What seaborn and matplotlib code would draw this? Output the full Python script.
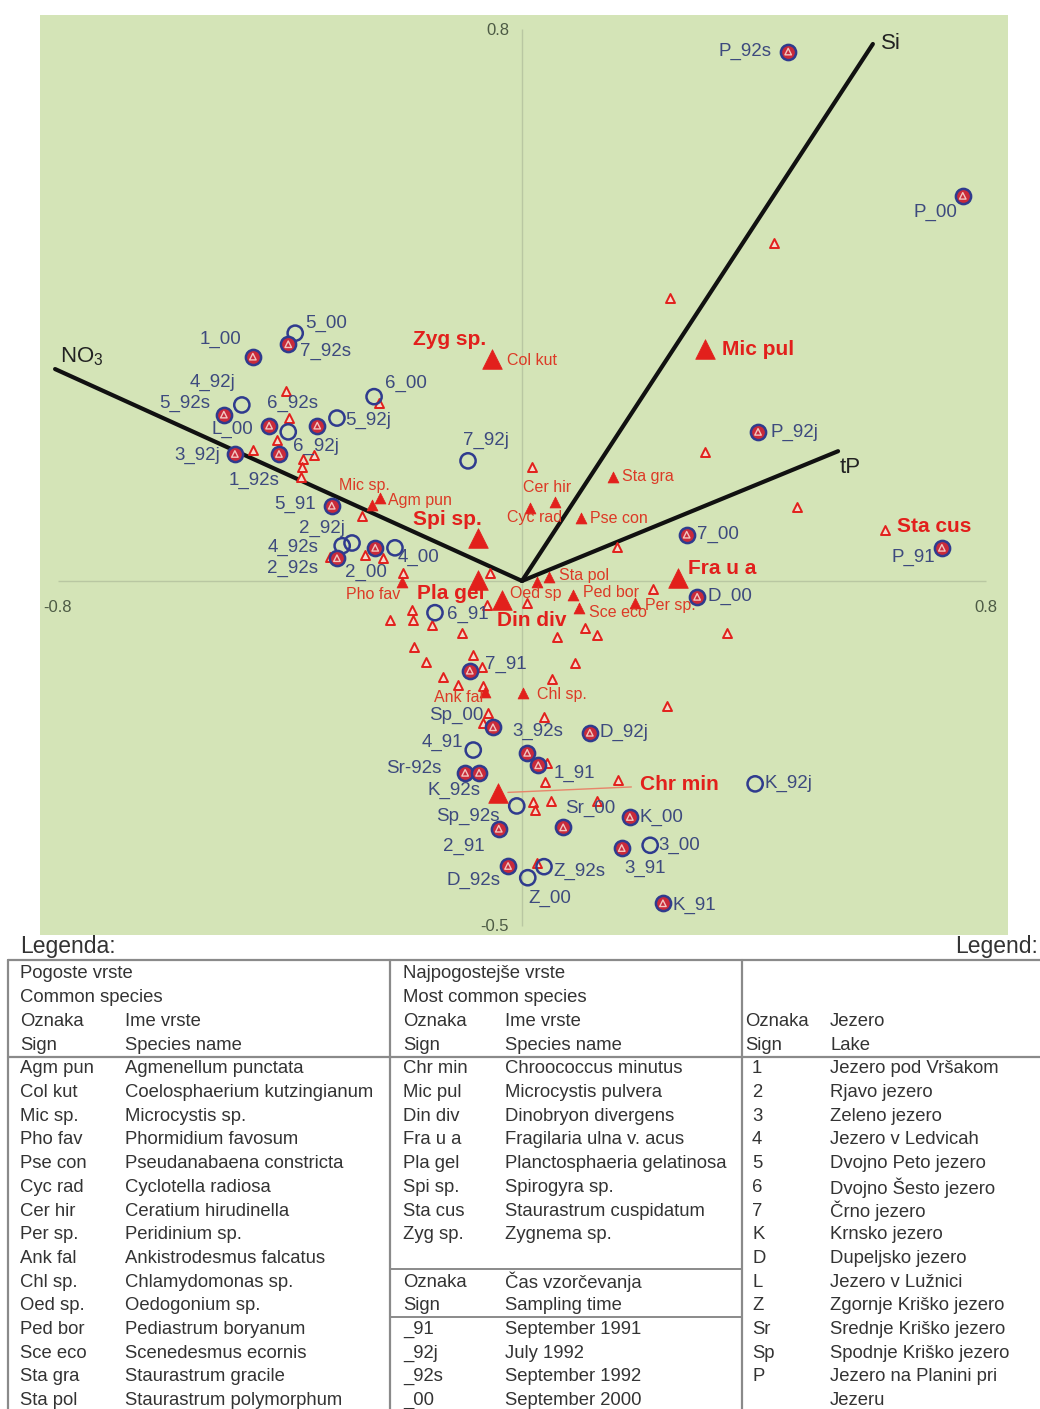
import matplotlib
matplotlib.use("Agg")
import matplotlib.pyplot as plt
import seaborn as sns
import pandas as pd

# ---------------- data ----------------
# sampling sites (lake + sampling time); filled = circle that also holds a species mark
site_names = ["P_92s", "P_00", "5_00", "7_92s", "1_00", "6_00", "4_92j", "5_92s", "L_00",
              "6_92s", "6_92j", "5_92j", "3_92j", "1_92s", "7_92j", "5_91", "2_92j", "4_92s",
              "2_92s", "2_00", "4_00", "P_92j", "7_00", "P_91", "D_00", "6_91", "7_91",
              "Sp_00", "3_92s", "4_91", "Sr-92s", "K_92s", "1_91", "Sp_92s", "2_91", "Sr_00",
              "D_92j", "K_00", "3_91", "3_00", "Z_92s", "D_92s", "Z_00", "K_91", "K_92j"]
site_x = [0.459, 0.760, -0.391, -0.403, -0.464, -0.255, -0.483, -0.514, -0.436,
          -0.353, -0.403, -0.319, -0.495, -0.419, -0.093, -0.328, -0.293, -0.310,
          -0.319, -0.253, -0.219, 0.407, 0.284, 0.724, 0.302, -0.150, -0.090,
          -0.050, 0.009, -0.084, -0.098, -0.074, 0.028, -0.009, -0.040, 0.071,
          0.117, 0.186, 0.172, 0.221, 0.038, -0.024, 0.010, 0.243, 0.402]
site_y = [0.767, 0.558, 0.359, 0.343, 0.325, 0.267, 0.255, 0.241, 0.225,
          0.225, 0.216, 0.236, 0.184, 0.184, 0.174, 0.109, 0.055, 0.051,
          0.033, 0.048, 0.048, 0.216, 0.067, 0.048, -0.023, -0.046, -0.130,
          -0.212, -0.249, -0.245, -0.278, -0.278, -0.267, -0.326, -0.359, -0.357,
          -0.220, -0.342, -0.387, -0.383, -0.414, -0.413, -0.430, -0.467, -0.294]
site_filled = [True, True, False, True, True, False, False, True, True,
               True, False, False, True, True, False, True, False, False,
               True, True, False, True, True, True, True, False, True,
               True, True, False, True, True, True, False, True, True,
               True, True, True, False, False, True, False, True, False]

# common species (small filled triangles)
common_names = ["Agm pun", "Col kut", "Mic sp.", "Pho fav", "Pse con", "Cyc rad", "Cer hir",
                "Per sp.", "Ank fal", "Chl sp.", "Oed sp", "Ped bor", "Sce eco", "Sta gra", "Sta pol"]
common_x = [-0.245, -0.050, -0.259, -0.207, 0.102, 0.014, 0.057,
            0.195, -0.064, 0.002, 0.026, 0.088, 0.098, 0.157, 0.047]
common_y = [0.120, 0.320, 0.110, -0.001, 0.091, 0.106, 0.114,
            -0.032, -0.161, -0.162, -0.001, -0.020, -0.039, 0.151, 0.006]

# most common species (large filled triangles)
top_names = ["Chr min", "Mic pul", "Din div", "Fra u a", "Pla gel", "Spi sp.", "Sta cus", "Zyg sp."]
top_x = [-0.041, 0.316, -0.034, 0.269, -0.076, -0.076, 0.626, -0.052]
top_y = [-0.307, 0.336, -0.028, 0.004, 0.001, 0.062, 0.074, 0.322]

# remaining (rare) species, unlabelled
rare_x = [0.434, 0.255, -0.407, -0.402, -0.422, -0.464, -0.359, -0.378, -0.379, -0.381,
          -0.247, -0.276, -0.331, -0.271, -0.240, -0.205, 0.017, 0.316, 0.474, 0.164,
          -0.055, -0.060, 0.009, 0.226, 0.353, -0.228, -0.190, -0.188, -0.155, -0.103,
          0.060, 0.109, 0.129, -0.186, -0.166, -0.084, 0.091, -0.136, -0.110, -0.067,
          -0.069, 0.052, 0.250, 0.038, -0.059, -0.067, 0.040, 0.019, 0.022, 0.050,
          0.129, 0.043, 0.166, 0.026]
rare_y = [0.490, 0.410, 0.275, 0.236, 0.204, 0.190, 0.183, 0.177, 0.165, 0.151,
          0.258, 0.094, 0.035, 0.038, 0.033, 0.012, 0.165, 0.187, 0.107, 0.049,
          0.012, -0.035, -0.032, -0.012, -0.075, -0.057, -0.042, -0.057, -0.064, -0.075,
          -0.081, -0.068, -0.078, -0.096, -0.117, -0.107, -0.119, -0.139, -0.151, -0.152,
          -0.125, -0.142, -0.181, -0.197, -0.191, -0.206, -0.291, -0.320, -0.332, -0.319,
          -0.319, -0.264, -0.288, -0.409]

# environmental variables
env_names = ["NO$_3$", "Si", "tP"]
env_x = [-0.805, 0.605, 0.545]
env_y = [0.307, 0.778, 0.188]

x_ticks = [-0.8, 0.8]
y_ticks = [-0.5, 0.8]

# ---------------- legend table text ----------------
legend_common_signs = ["Agm pun", "Col kut", "Mic sp.", "Pho fav", "Pse con", "Cyc rad", "Cer hir",
                       "Per sp.", "Ank fal", "Chl sp.", "Oed sp.", "Ped bor", "Sce eco", "Sta gra", "Sta pol"]
legend_common_full = ["Agmenellum punctata", "Coelosphaerium kutzingianum", "Microcystis sp.",
                      "Phormidium favosum", "Pseudanabaena constricta", "Cyclotella radiosa",
                      "Ceratium hirudinella", "Peridinium sp.", "Ankistrodesmus falcatus",
                      "Chlamydomonas sp.", "Oedogonium sp.", "Pediastrum boryanum",
                      "Scenedesmus ecornis", "Staurastrum gracile", "Staurastrum polymorphum"]
legend_top_signs = ["Chr min", "Mic pul", "Din div", "Fra u a", "Pla gel", "Spi sp.", "Sta cus", "Zyg sp."]
legend_top_full = ["Chroococcus minutus", "Microcystis pulvera", "Dinobryon divergens",
                   "Fragilaria ulna v. acus", "Planctosphaeria gelatinosa", "Spirogyra sp.",
                   "Staurastrum cuspidatum", "Zygnema sp."]
time_signs = ["_91", "_92j", "_92s", "_00"]
time_full = ["September 1991", "July 1992", "September 1992", "September 2000"]
lake_signs = ["1", "2", "3", "4", "5", "6", "7", "K", "D", "L", "Z", "Sr", "Sp", "P", ""]
lake_full = ["Jezero pod Vršakom", "Rjavo jezero", "Zeleno jezero", "Jezero v Ledvicah",
             "Dvojno Peto jezero", "Dvojno Šesto jezero", "Črno jezero", "Krnsko jezero",
             "Dupeljsko jezero", "Jezero v Lužnici", "Zgornje Kriško jezero",
             "Srednje Kriško jezero", "Spodnje Kriško jezero", "Jezero na Planini pri", "Jezeru"]

# label placement (pixel offsets from the mark, horizontal alignment)
site_label_pos = {
    "P_92s": (-17, 0, "right"), "P_00": (-5, -17, "right"), "5_00": (10, 10, "left"),
    "7_92s": (12, -7, "left"), "1_00": (-11, 17, "right"), "6_00": (11, 13, "left"),
    "4_92j": (-6, 23, "right"), "5_92s": (-14, 11, "right"), "L_00": (-16, -4, "right"),
    "6_92s": (-25, 22, "center"), "6_92j": (5, -15, "left"), "5_92j": (8, -2, "left"),
    "3_92j": (-15, -1, "right"), "1_92s": (-25, -26, "center"), "7_92j": (-5, 20, "left"),
    "5_91": (-16, 1, "right"), "2_92j": (-7, 15, "right"), "4_92s": (-24, -2, "right"),
    "2_92s": (-19, -10, "right"), "2_00": (-30, -25, "left"), "4_00": (3, -10, "left"),
    "P_92j": (12, -1, "left"), "7_00": (10, 0, "left"), "P_91": (-7, -10, "right"),
    "D_00": (10, 0, "left"), "6_91": (12, -2, "left"), "7_91": (15, 6, "left"),
    "Sp_00": (-9, 12, "right"), "3_92s": (-15, 21, "left"), "4_91": (-10, 8, "right"),
    "Sr-92s": (-24, 4, "right"), "K_92s": (1, -18, "right"), "1_91": (15, -8, "left"),
    "Sp_92s": (-17, -10, "right"), "2_91": (-14, -18, "right"), "Sr_00": (2, 19, "left"),
    "D_92j": (10, 0, "left"), "K_00": (10, 0, "left"), "3_91": (3, -20, "left"),
    "3_00": (8, 0, "left"), "Z_92s": (9, -5, "left"), "D_92s": (-8, -14, "right"),
    "Z_00": (22, -21, "center"), "K_91": (10, -2, "left"), "K_92j": (9, 0, "left"),
}
common_label_pos = {
    "Agm pun": (8, -2, "left"), "Col kut": (14, 0, "left"), "Mic sp.": (18, 20, "right"),
    "Pho fav": (-2, -13, "right"), "Pse con": (9, 0, "left"), "Cyc rad": (-23, -10, "left"),
    "Cer hir": (-32, 15, "left"), "Per sp.": (10, -2, "left"), "Ank fal": (-2, -5, "right"),
    "Chl sp.": (14, -2, "left"), "Oed sp": (-27, -12, "left"), "Ped bor": (10, 2, "left"),
    "Sce eco": (10, -5, "left"), "Sta gra": (9, 0, "left"), "Sta pol": (10, 1, "left"),
}
top_label_pos = {
    "Chr min": (142, 8, "left"), "Mic pul": (17, 0, "left"), "Din div": (-5, -20, "left"),
    "Fra u a": (10, 10, "left"), "Pla gel": (7, -13, "right"), "Spi sp.": (4, 19, "right"),
    "Sta cus": (12, 3, "left"), "Zyg sp.": (-6, 19, "right"),
}
env_label_pos = {"NO$_3$": (5, 12, "left"), "Si": (8, 0, "left"), "tP": (2, -16, "left")}

GREEN = "#d4e4b7"
RED = "#e2201c"
RED_TXT = "#dc3a26"
NAVY = "#2f3b8e"
SITE_TXT = "#3d4a7e"
TICK_TXT = "#4d5b45"

sns.set_style("white")
plt.rcParams["font.family"] = ["Liberation Sans", "DejaVu Sans"]
plt.rcParams["mathtext.fontset"] = "custom"
plt.rcParams["mathtext.rm"] = "Liberation Sans"

sites = pd.DataFrame({"name": site_names, "x": site_x, "y": site_y, "filled": site_filled})
common = pd.DataFrame({"name": common_names, "x": common_x, "y": common_y})
top = pd.DataFrame({"name": top_names, "x": top_x, "y": top_y})
rare = pd.DataFrame({"x": rare_x, "y": rare_y})

fig = plt.figure(figsize=(10.4, 14.09), dpi=100)
ax = fig.add_axes([40 / 1040, 474 / 1409, 968 / 1040, 920 / 1409])
ax.set_facecolor(GREEN)
ax.set_xlim(-0.831, 0.838)
ax.set_ylim(-0.513, 0.820)
for sp in ax.spines.values():
    sp.set_visible(False)
ax.set_xticks([])
ax.set_yticks([])
ax.set_xlabel("")
ax.set_ylabel("")

# thin axis lines through the origin
ax.hlines(0, x_ticks[0], x_ticks[1], color="#b9c7a2", lw=1, zorder=1)
ax.vlines(0, y_ticks[0], y_ticks[1], color="#b9c7a2", lw=1, zorder=1)
ax.annotate("0.8", (0, y_ticks[1]), xytext=(-13, -2), textcoords="offset pixels",
            ha="right", va="center", fontsize=12, color=TICK_TXT)
ax.annotate("-0.5", (0, y_ticks[0]), xytext=(-13, 0), textcoords="offset pixels",
            ha="right", va="center", fontsize=12, color=TICK_TXT)
for xv in x_ticks:
    ax.annotate(f"{xv:g}", (xv, 0), xytext=(0, -27), textcoords="offset pixels",
                ha="center", va="center", fontsize=12, color=TICK_TXT)

# environmental vectors
for nm, ex, ey in zip(env_names, env_x, env_y):
    ax.plot([0, ex], [0, ey], color="#111111", lw=3, solid_capstyle="round", zorder=2.5)
    dx, dy, ha = env_label_pos[nm]
    ax.annotate(nm, (ex, ey), xytext=(dx, dy), textcoords="offset pixels",
                ha=ha, va="center", fontsize=16, color="#222222")

# rare species
rare_plus = pd.concat([rare, top[top["name"] == "Sta cus"][["x", "y"]]])
sns.scatterplot(data=rare_plus, x="x", y="y", marker="^", s=42, color=RED,
                facecolor="#f4dccd", edgecolor=RED, linewidth=1.4, legend=False, ax=ax, zorder=3)

# sites
open_sites = sites[~sites["filled"]]
full_sites = sites[sites["filled"]]
sns.scatterplot(data=open_sites, x="x", y="y", marker="o", s=120, color=NAVY,
                facecolor="none", edgecolor=NAVY, linewidth=1.8, legend=False, ax=ax, zorder=4)
sns.scatterplot(data=full_sites, x="x", y="y", marker="o", s=120, color=RED,
                facecolor="#c92a3a", edgecolor=NAVY, linewidth=1.8, legend=False, ax=ax, zorder=4)
sns.scatterplot(data=full_sites, x="x", y="y", marker="^", s=22, color="#f2c6c0",
                facecolor="none", edgecolor="#f2c6c0", linewidth=1.0, legend=False, ax=ax, zorder=4.5)

# common and most common species
sns.scatterplot(data=common, x="x", y="y", marker="^", s=62, color=RED,
                edgecolor=RED, linewidth=0.5, legend=False, ax=ax, zorder=5)
big = top[top["name"] != "Sta cus"]
sns.scatterplot(data=big, x="x", y="y", marker="^", s=200, color=RED,
                edgecolor=RED, linewidth=0.5, legend=False, ax=ax, zorder=5)

for _, r in sites.iterrows():
    dx, dy, ha = site_label_pos[r["name"]]
    ax.annotate(r["name"], (r["x"], r["y"]), xytext=(dx, dy), textcoords="offset pixels",
                ha=ha, va="center", fontsize=13.5, color=SITE_TXT, zorder=6)
for _, r in common.iterrows():
    dx, dy, ha = common_label_pos[r["name"]]
    ax.annotate(r["name"], (r["x"], r["y"]), xytext=(dx, dy), textcoords="offset pixels",
                ha=ha, va="center", fontsize=11.5, color=RED_TXT, zorder=6)
for _, r in top.iterrows():
    dx, dy, ha = top_label_pos[r["name"]]
    arrow = None
    if r["name"] == "Chr min":
        arrow = dict(arrowstyle="-", color="#e8846a", lw=1.0, shrinkA=4, shrinkB=7)
    ax.annotate(r["name"], (r["x"], r["y"]), xytext=(dx, dy), textcoords="offset pixels",
                ha=ha, va="center", fontsize=15, fontweight="bold", color=RED,
                arrowprops=arrow, zorder=6)

# ---------------- legend table below the plot ----------------
tab = fig.add_axes([0, 0, 1, 1])
tab.set_xlim(0, 1040)
tab.set_ylim(1409, 0)
tab.axis("off")
tab.patch.set_alpha(0)

TXT = "#333333"
LINE = "#8a8a8a"
FS = 13.3

tab.text(20, 946, "Legenda:", fontsize=16.5, color=TXT, va="center", ha="left")
tab.text(1038, 946, "Legend:", fontsize=16.5, color=TXT, va="center", ha="right")

# table frame
tab.plot([8, 1040], [960, 960], color=LINE, lw=1.6)
tab.plot([8, 1040], [1057, 1057], color=LINE, lw=1.6)
for xv in [8, 390, 742]:
    tab.plot([xv, xv], [960, 1409], color=LINE, lw=1.6)
tab.plot([390, 742], [1269, 1269], color=LINE, lw=1.4)
tab.plot([390, 742], [1317, 1317], color=LINE, lw=1.4)

row0 = 974
step = 23.7


def row_y(i):
    return row0 + i * step


def put(x, i, s):
    tab.text(x, row_y(i), s, fontsize=FS, color=TXT, va="center", ha="left")


# column 1: common species
put(20, 0, "Pogoste vrste")
put(20, 1, "Common species")
put(20, 2, "Oznaka")
put(125, 2, "Ime vrste")
put(20, 3, "Sign")
put(125, 3, "Species name")
for i, (a, b) in enumerate(zip(legend_common_signs, legend_common_full)):
    put(20, 4 + i, a)
    put(125, 4 + i, b)

# column 2: most common species and sampling time
put(403, 0, "Najpogostejše vrste")
put(403, 1, "Most common species")
put(403, 2, "Oznaka")
put(505, 2, "Ime vrste")
put(403, 3, "Sign")
put(505, 3, "Species name")
for i, (a, b) in enumerate(zip(legend_top_signs, legend_top_full)):
    put(403, 4 + i, a)
    put(505, 4 + i, b)
put(403, 13, "Oznaka")
put(505, 13, "Čas vzorčevanja")
put(403, 14, "Sign")
put(505, 14, "Sampling time")
for i, (a, b) in enumerate(zip(time_signs, time_full)):
    put(403, 15 + i, a)
    put(505, 15 + i, b)

# column 3: lakes
put(745, 2, "Oznaka")
put(830, 2, "Jezero")
put(745, 3, "Sign")
put(830, 3, "Lake")
for i, (a, b) in enumerate(zip(lake_signs, lake_full)):
    put(752, 4 + i, a)
    put(830, 4 + i, b)

fig.savefig("out.png", dpi=100)
plt.close(fig)
